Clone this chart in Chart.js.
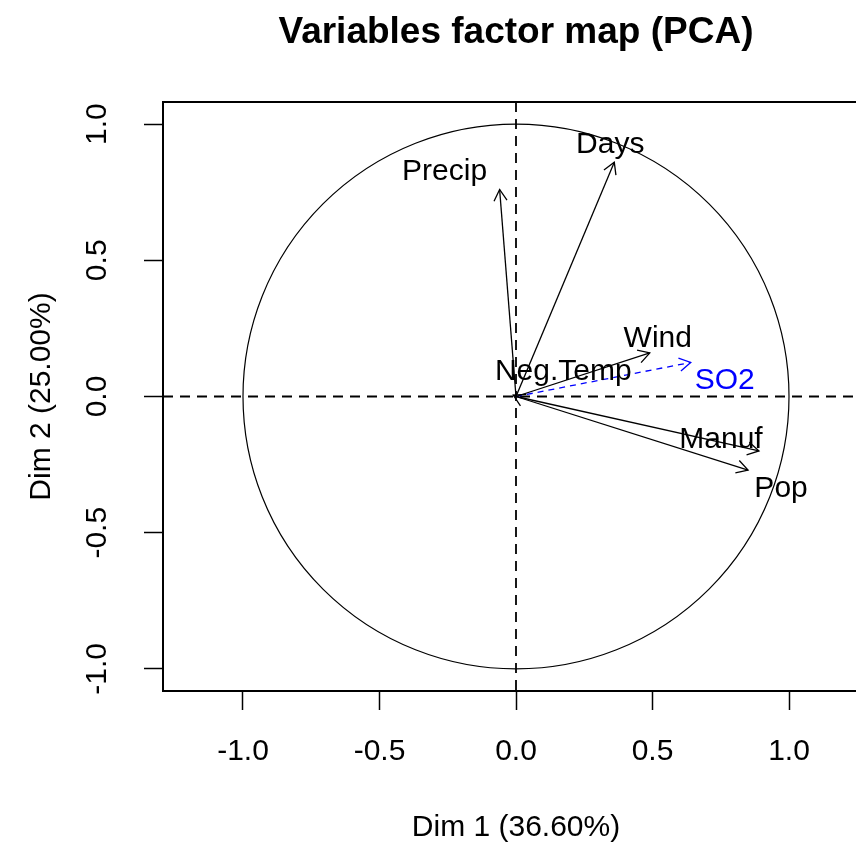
<!DOCTYPE html>
<html>
<head>
<meta charset="utf-8">
<script src="https://cdn.jsdelivr.net/npm/chart.js@4.4.1/dist/chart.umd.min.js"></script>
<style>
html, body { margin: 0; padding: 0; background: #fff; overflow: hidden; }
#wrap { width: 900px; height: 845px; }
</style>
</head>
<body>
<div id="wrap"><canvas id="pca" width="900" height="845"></canvas></div>
<script>
// active variables: coordinates on Dim 1 / Dim 2
const variables = ['Precip', 'Days', 'Wind', 'Neg.Temp', 'Manuf', 'Pop'];
const dim1 = [-0.06, 0.36, 0.49, -0.01, 0.89, 0.85];
const dim2 = [0.76, 0.86, 0.16, 0.005, -0.20, -0.27];
// supplementary variable
const suppVariables = ['SO2'];
const suppDim1 = [0.64];
const suppDim2 = [0.125];
const tickValues = [-1, -0.5, 0, 0.5, 1];

const titleText = 'Variables factor map (PCA)';
const xTitle = 'Dim 1 (36.60%)';
const yTitle = 'Dim 2 (25.00%)';

const FONT = '"Liberation Sans", Arial, sans-serif';

// where each label sits relative to the arrow tip (px)
const labelOffsets = {
    'Precip': [-55, -18],
    'Days': [-4, -17],
    'Wind': [8, -14],
    'Neg.Temp': [50, -23],
    'Manuf': [-38, -11],
    'Pop': [33, 19],
    'SO2': [34, 18]
};

let datasets = variables.map(function(name, i) {
    return {
        label: name,
        data: [{ x: 0, y: 0 }, { x: dim1[i], y: dim2[i] }],
        borderColor: '#000000',
        borderWidth: 1.3,
        pointRadius: 0,
        showLine: true,
        fill: false
    };
});
suppVariables.forEach(function(name, i) {
    datasets.push({
        label: name,
        data: [{ x: 0, y: 0 }, { x: suppDim1[i], y: suppDim2[i] }],
        borderColor: '#0000ff',
        borderWidth: 1.3,
        borderDash: [6, 5],
        pointRadius: 0,
        showLine: true,
        fill: false
    });
});

function drawArrowHead(ctx, x0, y0, x1, y1, color) {
    let ang = Math.atan2(y1 - y0, x1 - x0);
    let len = 13;
    ctx.save();
    ctx.strokeStyle = color;
    ctx.lineWidth = 1.3;
    ctx.setLineDash([]);
    ctx.beginPath();
    ctx.moveTo(x1 - len * Math.cos(ang - Math.PI / 6), y1 - len * Math.sin(ang - Math.PI / 6));
    ctx.lineTo(x1, y1);
    ctx.lineTo(x1 - len * Math.cos(ang + Math.PI / 6), y1 - len * Math.sin(ang + Math.PI / 6));
    ctx.stroke();
    ctx.restore();
}

const pcaDecor = {
    id: 'pcaDecor',
    beforeDatasetsDraw: function(chart) {
        let ctx = chart.ctx;
        let xs = chart.scales.x, ys = chart.scales.y;
        let area = chart.chartArea;
        let cx = xs.getPixelForValue(0), cy = ys.getPixelForValue(0);
        ctx.save();
        // correlation circle
        ctx.strokeStyle = '#000';
        ctx.lineWidth = 1.2;
        ctx.beginPath();
        ctx.ellipse(cx, cy, xs.getPixelForValue(1) - cx, cy - ys.getPixelForValue(1), 0, 0, Math.PI * 2);
        ctx.stroke();
        // dashed axes through the origin
        ctx.lineWidth = 1.8;
        ctx.setLineDash([10, 7]);
        ctx.beginPath();
        ctx.moveTo(area.left, cy);
        ctx.lineTo(area.right, cy);
        ctx.moveTo(cx, area.top);
        ctx.lineTo(cx, area.bottom);
        ctx.stroke();
        ctx.restore();
    },
    afterDatasetsDraw: function(chart) {
        let ctx = chart.ctx;
        chart.data.datasets.forEach(function(ds, i) {
            let meta = chart.getDatasetMeta(i);
            let p0 = meta.data[0], p1 = meta.data[1];
            drawArrowHead(ctx, p0.x, p0.y, p1.x, p1.y, ds.borderColor);
            let off = labelOffsets[ds.label] || [0, -15];
            ctx.save();
            ctx.fillStyle = ds.borderColor;
            ctx.font = '30px ' + FONT;
            ctx.textAlign = 'center';
            ctx.textBaseline = 'middle';
            ctx.fillText(ds.label, p1.x + off[0], p1.y + off[1]);
            ctx.restore();
        });
    },
    afterDraw: function(chart) {
        let ctx = chart.ctx;
        let area = chart.chartArea;
        let ys = chart.scales.y;
        let midX = (area.left + area.right) / 2;
        ctx.save();
        // plot box
        ctx.strokeStyle = '#000';
        ctx.lineWidth = 2;
        ctx.strokeRect(area.left, area.top, area.right - area.left, area.bottom - area.top);
        ctx.fillStyle = '#000';
        // title
        ctx.font = 'bold 37px ' + FONT;
        ctx.textAlign = 'center';
        ctx.textBaseline = 'middle';
        ctx.fillText(titleText, midX, 33);
        // x title
        ctx.font = '30px ' + FONT;
        ctx.fillText(xTitle, midX, 828);
        // y tick labels, rotated like R
        ys.ticks.forEach(function(t) {
            ctx.save();
            ctx.translate(98, ys.getPixelForValue(t.value));
            ctx.rotate(-Math.PI / 2);
            ctx.fillText(t.value.toFixed(1), 0, 0);
            ctx.restore();
        });
        // y title
        ctx.save();
        ctx.translate(42, (area.top + area.bottom) / 2);
        ctx.rotate(-Math.PI / 2);
        ctx.fillText(yTitle, 0, 0);
        ctx.restore();
        ctx.restore();
    }
};

Chart.defaults.font.family = FONT;
Chart.defaults.color = '#000';

new Chart(document.getElementById('pca'), {
    type: 'scatter',
    data: { datasets: datasets },
    options: {
        responsive: false,
        animation: false,
        layout: { padding: { top: 102, right: 31, left: 0, bottom: 0 } },
        plugins: {
            legend: { display: false },
            tooltip: { enabled: false },
            title: { display: false }
        },
        scales: {
            x: {
                type: 'linear',
                min: -1.293,
                max: 1.293,
                afterBuildTicks: function(scale) {
                    scale.ticks = tickValues.map(v => ({ value: v }));
                },
                afterFit: function(scale) { scale.height = 154; },
                grid: {
                    drawOnChartArea: false,
                    drawTicks: true,
                    tickLength: 19,
                    tickColor: '#000',
                    tickWidth: 1.5
                },
                border: { display: false },
                ticks: {
                    font: { size: 30 },
                    color: '#000',
                    padding: 24,
                    maxRotation: 0,
                    callback: function(v) { return v.toFixed(1); }
                }
            },
            y: {
                type: 'linear',
                min: -1.081,
                max: 1.081,
                afterBuildTicks: function(scale) {
                    scale.ticks = tickValues.map(v => ({ value: v }));
                },
                afterFit: function(scale) { scale.width = 163; },
                grid: {
                    drawOnChartArea: false,
                    drawTicks: true,
                    tickLength: 19,
                    tickColor: '#000',
                    tickWidth: 1.5
                },
                border: { display: false },
                ticks: { display: false }
            }
        }
    },
    plugins: [pcaDecor]
});
</script>
</body>
</html>
